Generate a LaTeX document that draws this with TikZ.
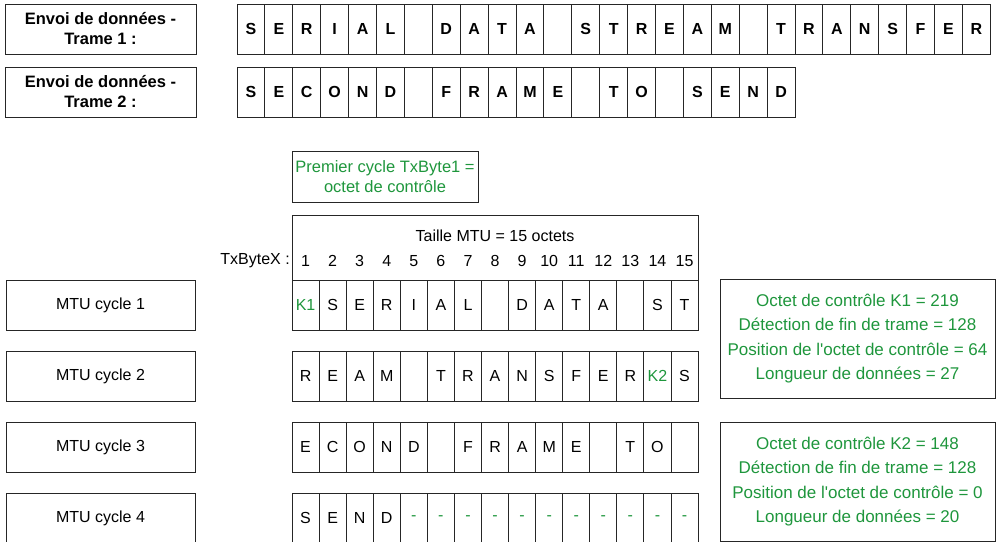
\documentclass[tikz,border=0pt]{standalone}
\usepackage{fontspec}
\setmainfont{Liberation Sans}
\definecolor{ctrlgreen}{RGB}{30,150,60}
\newcommand{\ctrltxt}[1]{\textcolor{ctrlgreen}{#1}}

\begin{document}
\begin{tikzpicture}[x=1pt,y=-1pt,
  every node/.style={font=\fontsize{16}{20}\selectfont,inner sep=0pt},
  box/.style={draw=black!85,line width=0.9pt},
  framelabel/.style={box,minimum width=191pt,minimum height=50pt,align=center,font=\bfseries\fontsize{16.5}{20}\selectfont},
  framecell/.style={box,minimum width=27.9pt,minimum height=50pt,font=\bfseries\fontsize{16}{20}\selectfont},
  cyclebox/.style={box,minimum width=189pt,minimum height=50pt},
  mtucell/.style={box,minimum width=27.07pt,minimum height=50pt},
  infobox/.style={box,text=ctrlgreen,minimum width=275pt,minimum height=119pt,align=center,font=\fontsize{17}{24.5}\selectfont}]
\clip (0,0) rectangle (996,541);
% trames a envoyer
\node[framelabel] (env1) at (100.5,29) {Envoi de données -\\Trame 1 :};
\node[framelabel] (env2) at (100.5,92) {Envoi de données -\\Trame 2 :};
\foreach \c [count=\i] in {S,E,R,I,A,L,{},D,A,T,A,{},S,T,R,E,A,M,{},T,R,A,N,S,F,E,R}{\node[framecell] (f1-\i) at ({237+(\i-0.5)*27.9},29) {\c};}
\foreach \c [count=\i] in {S,E,C,O,N,D,{},F,R,A,M,E,{},T,O,{},S,E,N,D}{\node[framecell] (f2-\i) at ({237+(\i-0.5)*27.9},92) {\c};}
% en-tete MTU
\node[box,text=ctrlgreen,minimum width=186pt,minimum height=51pt,align=center,font=\fontsize{16.5}{20}\selectfont] (first) at (385,176.5) {Premier cycle TxByte1 =\\octet de contrôle};
\node[box,minimum width=406pt,minimum height=65pt] (mtu) at (495,247.5) {};
\node (size) at (495,236) {Taille MTU = 15 octets};
\node[anchor=east] (txbyte) at (290,261) {TxByteX :};
\foreach \i in {1,...,15}{\node (b\i) at ({292+(\i-0.5)*27.07},261) {\i};}
% cycles MTU
\foreach \r/\yc/\cells in {1/305/{\ctrltxt{K1},S,E,R,I,A,L,{},D,A,T,A,{},S,T},
  2/376/{R,E,A,M,{},T,R,A,N,S,F,E,R,\ctrltxt{K2},S},
  3/447/{E,C,O,N,D,{},F,R,A,M,E,{},T,O,{}},
  4/518/{S,E,N,D,\ctrltxt{-},\ctrltxt{-},\ctrltxt{-},\ctrltxt{-},\ctrltxt{-},\ctrltxt{-},\ctrltxt{-},\ctrltxt{-},\ctrltxt{-},\ctrltxt{-},\ctrltxt{-}}}{
  \node[cyclebox] (cyc\r) at (100.5,\yc) {MTU cycle \r};
  \foreach \c [count=\i] in \cells {\node[mtucell] (m\r-\i) at ({292+(\i-0.5)*27.07},\yc) {\c};}
}
% octets de controle
\node[infobox] (k1info) at (857.5,338.5) {Octet de contrôle K1 = 219\\Détection de fin de trame = 128\\Position de l\textquotesingle octet de contrôle = 64\\Longueur de données = 27};
\node[infobox] (k2info) at (857.5,481.5) {Octet de contrôle K2 = 148\\Détection de fin de trame = 128\\Position de l\textquotesingle octet de contrôle = 0\\Longueur de données = 20};
\end{tikzpicture}
\end{document}
